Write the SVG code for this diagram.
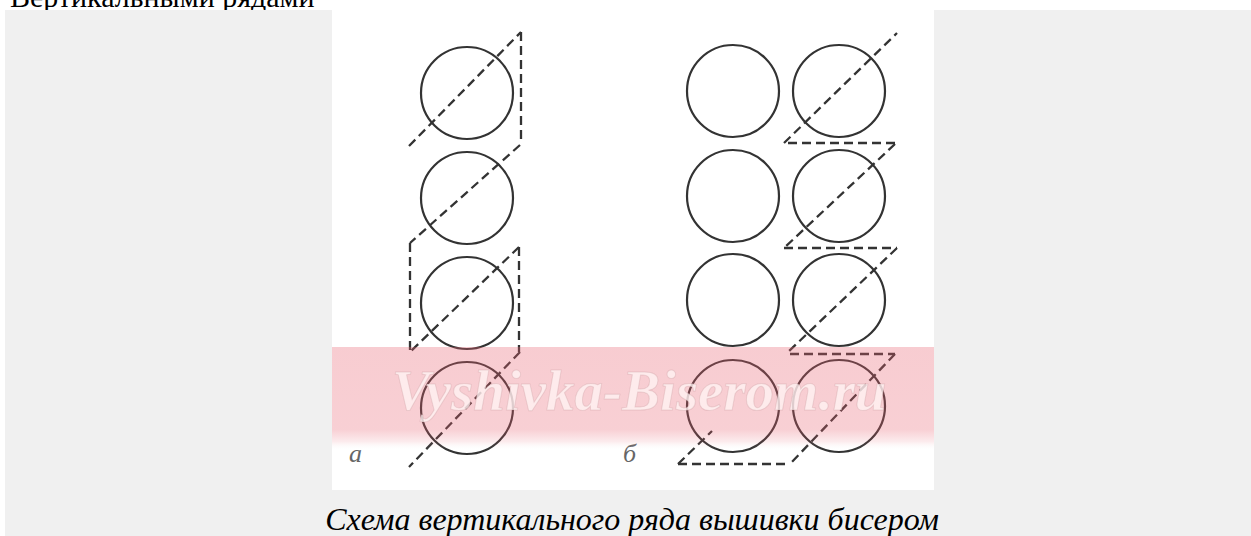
<svg xmlns="http://www.w3.org/2000/svg" width="1251" height="536" viewBox="0 0 1251 536">
<defs>
<style>
.bead{fill:none;stroke:#333;stroke-width:2.2}
.thread{fill:none;stroke:#333;stroke-width:2.3;stroke-dasharray:9 5;stroke-linecap:butt}
.lbl{font-family:"Liberation Serif",serif;font-style:italic;font-size:26px;fill:#666}
</style>
<linearGradient id="band" x1="0" y1="0" x2="0" y2="1">
<stop offset="0" stop-color="#e8606f" stop-opacity="0.32"/>
<stop offset="0.8" stop-color="#e8606f" stop-opacity="0.3"/>
<stop offset="0.92" stop-color="#e8606f" stop-opacity="0.12"/>
<stop offset="1" stop-color="#e8f4f4" stop-opacity="0"/>
</linearGradient>
</defs>
<rect x="0" y="0" width="1251" height="536" fill="#ffffff"/>
<text x="10" y="7" font-family="'Liberation Serif',serif" font-size="30" fill="#000">Вертикальными рядами</text>
<rect x="5" y="10" width="1246" height="526" fill="#f0f0f0"/>
<rect x="332" y="10" width="602" height="480" fill="#ffffff"/>

<g id="scheme-a">
<circle class="bead" cx="467" cy="93" r="46"/>
<circle class="bead" cx="467" cy="198" r="46"/>
<circle class="bead" cx="467" cy="303" r="46"/>
<circle class="bead" cx="467" cy="408" r="46"/>
</g>
<g id="scheme-b">
<circle class="bead" cx="733" cy="91" r="46"/>
<circle class="bead" cx="839" cy="91" r="46"/>
<circle class="bead" cx="733" cy="196" r="46"/>
<circle class="bead" cx="839" cy="196" r="46"/>
<circle class="bead" cx="733" cy="300" r="46"/>
<circle class="bead" cx="839" cy="300" r="46"/>
<circle class="bead" cx="733" cy="406" r="46"/>
<circle class="bead" cx="839" cy="406" r="46"/>
</g>
<g id="connectors">
<line class="thread" x1="409" y1="146" x2="521" y2="32"/>
<line class="thread" x1="521" y1="32" x2="521" y2="143"/>
<line class="thread" x1="520" y1="145" x2="410" y2="243"/>
<line class="thread" x1="410" y1="243" x2="410" y2="352"/>
<line class="thread" x1="519" y1="247" x2="410" y2="352"/>
<line class="thread" x1="519" y1="247" x2="519" y2="352"/>
<line class="thread" x1="520" y1="352" x2="409" y2="467"/>

<line class="thread" x1="784" y1="143" x2="897" y2="33"/>
<line class="thread" x1="788" y1="143" x2="895" y2="143"/>
<line class="thread" x1="895" y1="144" x2="784" y2="248"/>
<line class="thread" x1="784" y1="248" x2="897" y2="248"/>
<line class="thread" x1="897" y1="248" x2="787" y2="353"/>
<line class="thread" x1="790" y1="354" x2="895" y2="354"/>
<line class="thread" x1="895" y1="354" x2="790" y2="464"/>
<line class="thread" x1="678" y1="464" x2="790" y2="464"/>
<line class="thread" x1="678" y1="464" x2="712" y2="431"/>
</g>
<text class="lbl" x="349" y="462">а</text>
<text class="lbl" x="623" y="462">б</text>

<rect x="332" y="347" width="602" height="103" fill="url(#band)"/>
<text x="392" y="410" font-family="'Liberation Serif',serif" font-style="italic" font-weight="bold" font-size="57" fill="#fff3f3" fill-opacity="0.78" stroke="#b07a80" stroke-opacity="0.22" stroke-width="1">Vyshivka-Biserom.ru</text>

<text x="632" y="530" text-anchor="middle" font-family="'Liberation Serif',serif" font-style="italic" font-size="32" fill="#000">Схема вертикального ряда вышивки бисером</text>
</svg>
